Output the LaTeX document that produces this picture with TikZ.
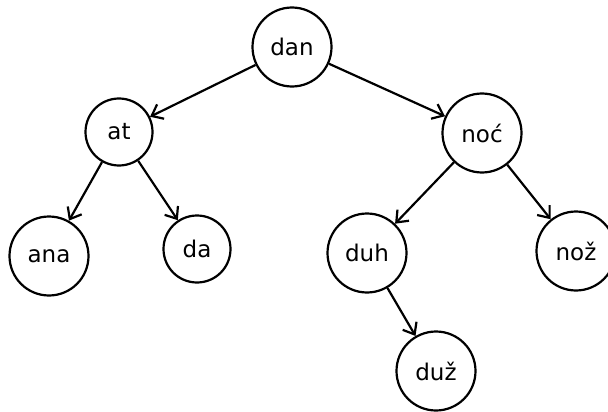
\documentclass[tikz,border=0pt]{standalone}
\usepackage{fontspec}
\setmainfont{DejaVu Sans}
\usetikzlibrary{arrows.meta}
\begin{document}
\begin{tikzpicture}[x=1pt,y=-1pt,
  big/.style={circle,draw,line width=2.2pt,minimum size=79pt,inner sep=0pt,font=\fontsize{23}{27}\selectfont},
  small/.style={circle,draw,line width=2.2pt,minimum size=67pt,inner sep=0pt,font=\fontsize{23}{27}\selectfont},
  edge/.style={line width=2.2pt,-{Straight Barb[length=10pt,width=16pt,line width=2.2pt]}}]
\useasboundingbox (0,0) rectangle (608,412);
\node[big]   (dan) at (292,47)  {dan};
\node[small] (at)  at (119,132) {at};
\node[big]   (noc) at (482,133) {noć};
\node[big]   (ana) at (49,256)  {ana};
\node[small] (da)  at (197,249) {da};
\node[big]   (duh) at (367,253) {duh};
\node[big]   (noz) at (576,251) {nož};
\node[big]   (duz) at (436,371) {duž};
\draw[edge] (dan) -- (at);
\draw[edge] (dan) -- (noc);
\draw[edge] (at) -- (ana);
\draw[edge] (at) -- (da);
\draw[edge] (noc) -- (duh);
\draw[edge] (noc) -- (noz);
\draw[edge] (duh) -- (duz);
\end{tikzpicture}
\end{document}
